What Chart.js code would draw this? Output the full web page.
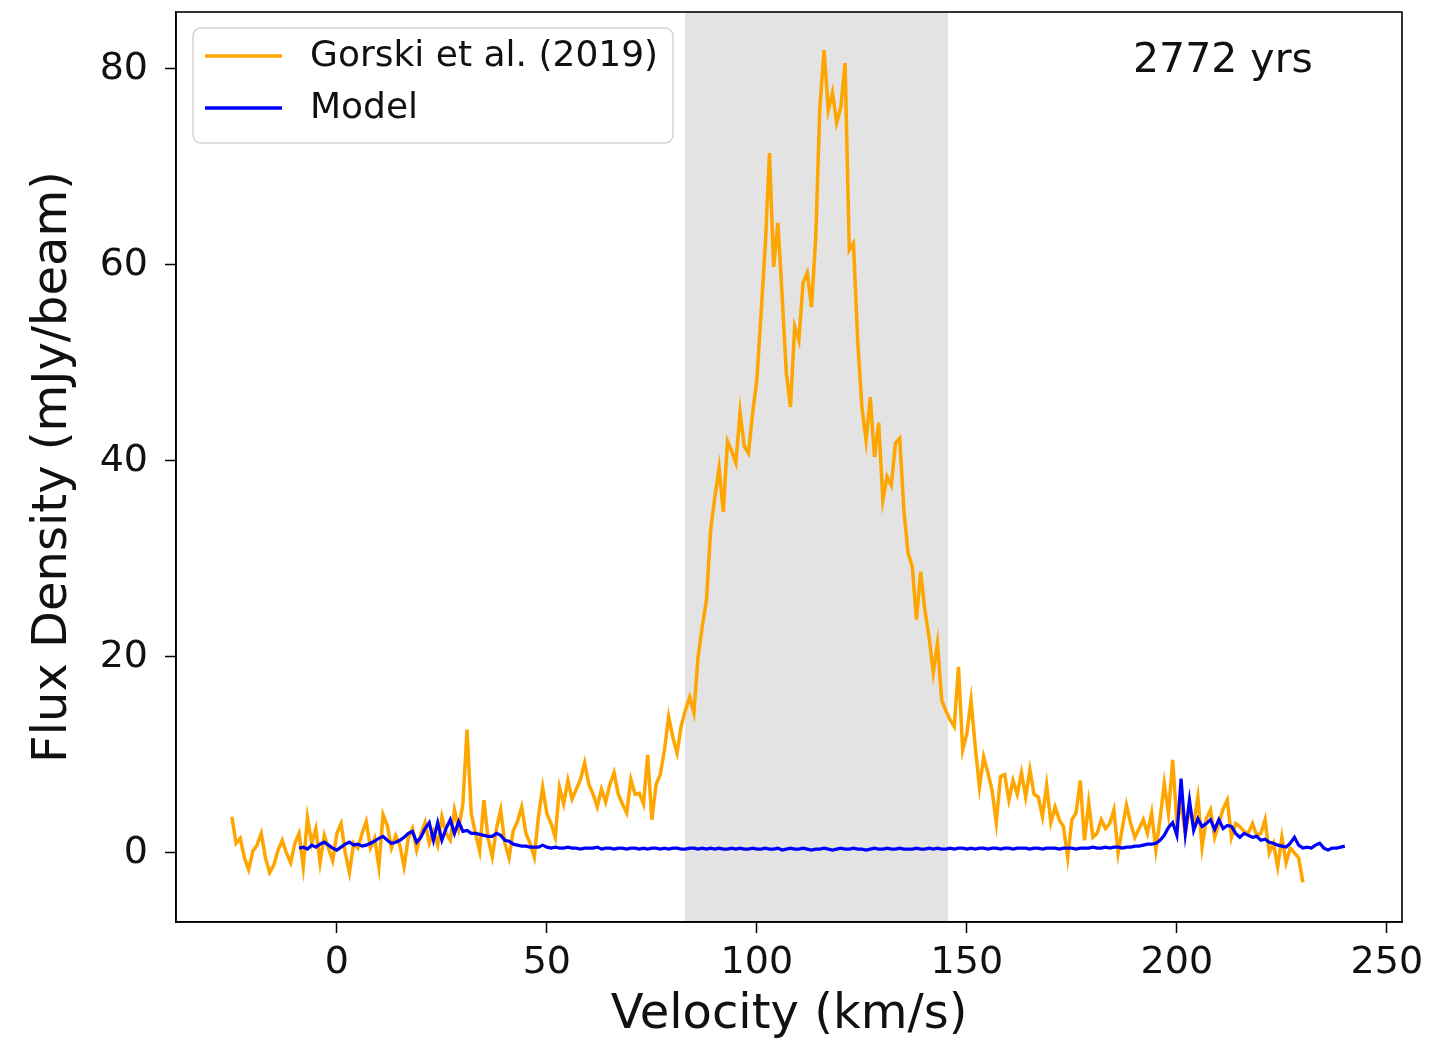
<!DOCTYPE html>
<html>
<head>
<meta charset="utf-8">
<script src="https://cdn.jsdelivr.net/npm/chart.js@4/dist/chart.umd.min.js"></script>
<style>
  html, body { margin: 0; padding: 0; background: #fff; }
  #wrap { width: 1455px; height: 1044px; }
</style>
</head>
<body>
<div id="wrap"><canvas id="c" width="1455" height="1044"></canvas></div>
<script>
// Observed spectrum (Gorski et al. 2019), 1 km/s channels starting at -25 km/s
const obsStart = -25;
const obsFlux = [
    3.7, 1.0, 1.5, -0.5, -1.7, 0.2, 0.8, 2.0, -0.5, -2.0,
    -1.2, 0.3, 1.3, 0.0, -1.0, 1.0, 2.0, -1.4, 3.6, 1.0,
    2.5, -1.0, 1.8, 0.5, -0.8, 2.0, 3.0, 0.0, -2.0, 1.0,
    0.5, 2.0, 3.2, 0.5, 1.5, -1.4, 3.9, 2.8, 0.5, 1.8,
    0.8, -1.4, 1.5, 2.5, 0.3, 1.9, 3.1, 1.0, 2.2, 0.8,
    3.7, 2.0, 1.3, 4.4, 2.5, 5.0, 12.6, 4.0, 2.0, 0.2,
    5.4, 1.5, -0.4, 2.5, 4.4, 1.0, -0.5, 2.3, 3.2, 4.7,
    2.0, 1.0, -0.4, 3.7, 6.7, 4.0, 3.0, 1.6, 6.7, 5.0,
    7.4, 5.5, 6.5, 7.5, 9.2, 7.0, 6.0, 4.7, 6.5, 5.2,
    7.0, 8.2, 6.0, 5.0, 4.1, 7.5, 6.0, 6.1, 5.0, 10.0,
    3.4, 7.0, 8.0, 10.5, 13.9, 11.8, 10.2, 13.0, 14.6, 15.9,
    14.3, 20.0, 23.1, 25.8, 33.0, 36.3, 39.3, 34.8, 42.0, 41.0,
    39.8, 45.0, 41.5, 40.8, 44.9, 48.3, 55.0, 62.0, 71.4, 59.8,
    64.3, 57.0, 49.0, 45.5, 53.7, 52.3, 58.2, 59.2, 55.7, 62.6,
    76.1, 81.9, 75.8, 77.6, 74.5, 76.1, 80.6, 61.5, 62.2, 52.3,
    45.5, 42.1, 46.5, 40.4, 43.9, 36.0, 38.4, 37.5, 41.8, 42.3,
    35.0, 30.6, 29.2, 23.8, 28.7, 24.8, 22.0, 18.4, 21.4, 15.6,
    14.5, 13.6, 12.9, 19.0, 10.5, 12.2, 15.6, 10.8, 6.7, 9.8,
    8.2, 6.4, 3.1, 7.8, 8.0, 5.4, 7.4, 6.0, 8.2, 5.7,
    8.5, 6.0, 5.7, 3.7, 6.9, 3.1, 4.7, 3.4, 2.7, -0.5,
    3.4, 4.1, 7.4, 1.3, 5.1, 1.6, 2.0, 3.4, 2.5, 3.0,
    4.4, 0.0, 2.5, 4.9, 3.0, 1.6, 2.5, 3.4, 2.0, 4.1,
    0.3, 3.5, 7.1, 4.0, 9.5, 3.1, 5.0, 2.0, 4.5, 3.0,
    5.7, 0.6, 3.5, 4.4, 1.6, 3.0, 4.5, 5.4, 1.6, 3.0,
    2.7, 2.2, 2.0, 3.0, 1.8, 2.0, 3.4, 0.0, 1.0, -1.4,
    1.6, -1.0, 0.5, 0.0, -0.5, -3.0,
];

// Model spectrum, 1 km/s channels starting at -9 km/s
const modelStart = -9;
const modelFlux = [
    0.5, 0.6, 0.4, 0.8, 0.6, 0.9, 1.1, 0.8, 0.5, 0.3,
    0.6, 0.9, 1.1, 0.8, 0.9, 0.7, 0.8, 1.0, 1.2, 1.5,
    1.7, 1.3, 1.0, 1.1, 1.3, 1.6, 2.0, 2.2, 1.1, 1.6,
    2.5, 3.1, 1.3, 3.1, 1.3, 2.5, 3.4, 2.0, 3.2, 2.2,
    2.3, 2.0, 2.0, 1.9, 1.8, 1.7, 1.7, 2.0, 1.8, 1.3,
    1.2, 0.9, 0.8, 0.7, 0.7, 0.6, 0.6, 0.6, 0.8, 0.6,
    0.5, 0.6, 0.5, 0.5, 0.6, 0.5, 0.5, 0.4, 0.5, 0.5,
    0.5, 0.6, 0.4, 0.5, 0.5, 0.4, 0.5, 0.5, 0.4, 0.5,
    0.5, 0.4, 0.5, 0.4, 0.5, 0.5, 0.4, 0.5, 0.4, 0.5,
    0.5, 0.4, 0.4, 0.5, 0.5, 0.4, 0.5, 0.4, 0.5, 0.4,
    0.5, 0.4, 0.4, 0.5, 0.4, 0.5, 0.4, 0.4, 0.5, 0.4,
    0.4, 0.5, 0.4, 0.4, 0.5, 0.3, 0.4, 0.5, 0.4, 0.4,
    0.5, 0.4, 0.3, 0.4, 0.4, 0.5, 0.4, 0.3, 0.4, 0.5,
    0.4, 0.4, 0.5, 0.4, 0.4, 0.3, 0.4, 0.5, 0.4, 0.4,
    0.5, 0.4, 0.4, 0.5, 0.4, 0.4, 0.4, 0.5, 0.4, 0.4,
    0.5, 0.4, 0.5, 0.4, 0.4, 0.5, 0.4, 0.5, 0.5, 0.4,
    0.5, 0.4, 0.5, 0.5, 0.4, 0.5, 0.5, 0.4, 0.5, 0.5,
    0.4, 0.5, 0.5, 0.5, 0.4, 0.5, 0.5, 0.4, 0.5, 0.5,
    0.5, 0.4, 0.5, 0.5, 0.5, 0.4, 0.5, 0.5, 0.5, 0.6,
    0.5, 0.5, 0.6, 0.5, 0.6, 0.6, 0.5, 0.6, 0.6, 0.7,
    0.7, 0.8, 0.9, 0.9, 1.0, 1.3, 1.8, 2.6, 3.1, 1.8,
    7.6, 2.0, 5.4, 2.3, 3.5, 2.7, 3.0, 3.4, 2.4, 3.4,
    2.5, 2.8, 2.7, 2.0, 1.6, 2.0, 1.8, 1.6, 1.7, 1.3,
    1.4, 1.1, 1.0, 0.8, 0.7, 0.6, 1.0, 1.6, 0.8, 0.5,
    0.6, 0.5, 0.8, 1.0, 0.5, 0.3, 0.5, 0.5, 0.6, 0.7,
];

const xTicks = [0, 50, 100, 150, 200, 250];
const yTicks = [0, 20, 40, 60, 80];
const xRange = [-38.3, 253.6];
const yRange = [-7.04, 85.8];
const shadeRange = [82.9, 145.5];
const seriesLabels = ['Gorski et al. (2019)', 'Model'];
const ageLabel = '2772 yrs';
const xTitle = 'Velocity (km/s)';
const yTitle = 'Flux Density (mJy/beam)';

const FONT = "'DejaVu Sans', sans-serif";
const INK = '#111';

function toPoints(start, values) {
    return values.map((y, i) => ({ x: start + i, y }));
}

// Grey velocity band behind the lines
const shadePlugin = {
    id: 'shade',
    beforeDatasetsDraw(chart) {
        const { ctx, chartArea, scales } = chart;
        const x0 = scales.x.getPixelForValue(shadeRange[0]);
        const x1 = scales.x.getPixelForValue(shadeRange[1]);
        ctx.save();
        ctx.fillStyle = 'rgba(128,128,128,0.22)';
        ctx.fillRect(x0, chartArea.top, x1 - x0, chartArea.bottom - chartArea.top);
        ctx.restore();
    },
};

// Frame, legend box and the age annotation
const decorPlugin = {
    id: 'decor',
    afterDraw(chart) {
        const { ctx, chartArea } = chart;
        ctx.save();
        ctx.strokeStyle = '#000';
        ctx.lineWidth = 1.6;
        ctx.strokeRect(chartArea.left, chartArea.top,
            chartArea.right - chartArea.left, chartArea.bottom - chartArea.top);

        // legend
        const bx = chartArea.left + 17, by = chartArea.top + 16, bw = 480, bh = 115;
        ctx.beginPath();
        ctx.roundRect(bx, by, bw, bh, 8);
        ctx.fillStyle = 'rgba(255,255,255,0.8)';
        ctx.fill();
        ctx.strokeStyle = '#d4d4d4';
        ctx.lineWidth = 1.5;
        ctx.stroke();

        ctx.font = `36px ${FONT}`;
        ctx.textBaseline = 'middle';
        ctx.textAlign = 'left';
        chart.data.datasets.forEach((ds, i) => {
            const y = by + 28 + i * 52;
            ctx.strokeStyle = ds.borderColor;
            ctx.lineWidth = 3.5;
            ctx.beginPath();
            ctx.moveTo(bx + 12, y);
            ctx.lineTo(bx + 89, y);
            ctx.stroke();
            ctx.fillStyle = INK;
            ctx.fillText(ds.label, bx + 117, y + 1);
        });

        ctx.font = `41px ${FONT}`;
        ctx.fillStyle = INK;
        ctx.textAlign = 'left';
        ctx.fillText(ageLabel, chartArea.left + 957, chartArea.top + 49);
        ctx.restore();
    },
};

function keepTicks(list) {
    return axis => { axis.ticks = list.map(v => ({ value: v })); };
}

new Chart(document.getElementById('c'), {
    type: 'line',
    data: {
        datasets: [
            {
                label: seriesLabels[0],
                data: toPoints(obsStart, obsFlux),
                borderColor: '#ffa500',
                borderWidth: 3.5,
                pointRadius: 0,
                tension: 0,
                fill: false,
                order: 1,
            },
            {
                label: seriesLabels[1],
                data: toPoints(modelStart, modelFlux),
                borderColor: '#0000ff',
                borderWidth: 3.2,
                pointRadius: 0,
                tension: 0,
                fill: false,
                order: 0,
            },
        ],
    },
    options: {
        responsive: false,
        animation: false,
        events: [],
        layout: { padding: { top: 12, right: 53, left: 0, bottom: 0 } },
        plugins: { legend: { display: false }, tooltip: { enabled: false } },
        scales: {
            x: {
                type: 'linear',
                min: xRange[0],
                max: xRange[1],
                afterBuildTicks: keepTicks(xTicks),
                afterFit: scale => {
                    scale.height = 122;
                    scale.paddingLeft = 0;
                    scale.paddingRight = 0;
                },
                grid: { drawOnChartArea: false, drawTicks: true, tickLength: 11, tickColor: '#000', tickWidth: 1.5 },
                border: { display: true, color: '#000', width: 1.5 },
                ticks: { color: INK, font: { family: FONT, size: 38 }, padding: 7, maxRotation: 0 },
                title: { display: true, text: xTitle, color: INK, font: { family: FONT, size: 48 }, padding: { top: 0, bottom: 0 } },
            },
            y: {
                type: 'linear',
                min: yRange[0],
                max: yRange[1],
                afterBuildTicks: keepTicks(yTicks),
                afterFit: scale => {
                    scale.width = 176;
                    scale.paddingTop = 0;
                    scale.paddingBottom = 0;
                },
                grid: { drawOnChartArea: false, drawTicks: true, tickLength: 11, tickColor: '#000', tickWidth: 1.5 },
                border: { display: true, color: '#000', width: 1.5 },
                ticks: { color: INK, font: { family: FONT, size: 38 }, padding: 17 },
                title: { display: true, text: yTitle, color: INK, font: { family: FONT, size: 48 }, padding: { top: 25, bottom: 0 } },
            },
        },
    },
    plugins: [shadePlugin, decorPlugin],
});
</script>
</body>
</html>
